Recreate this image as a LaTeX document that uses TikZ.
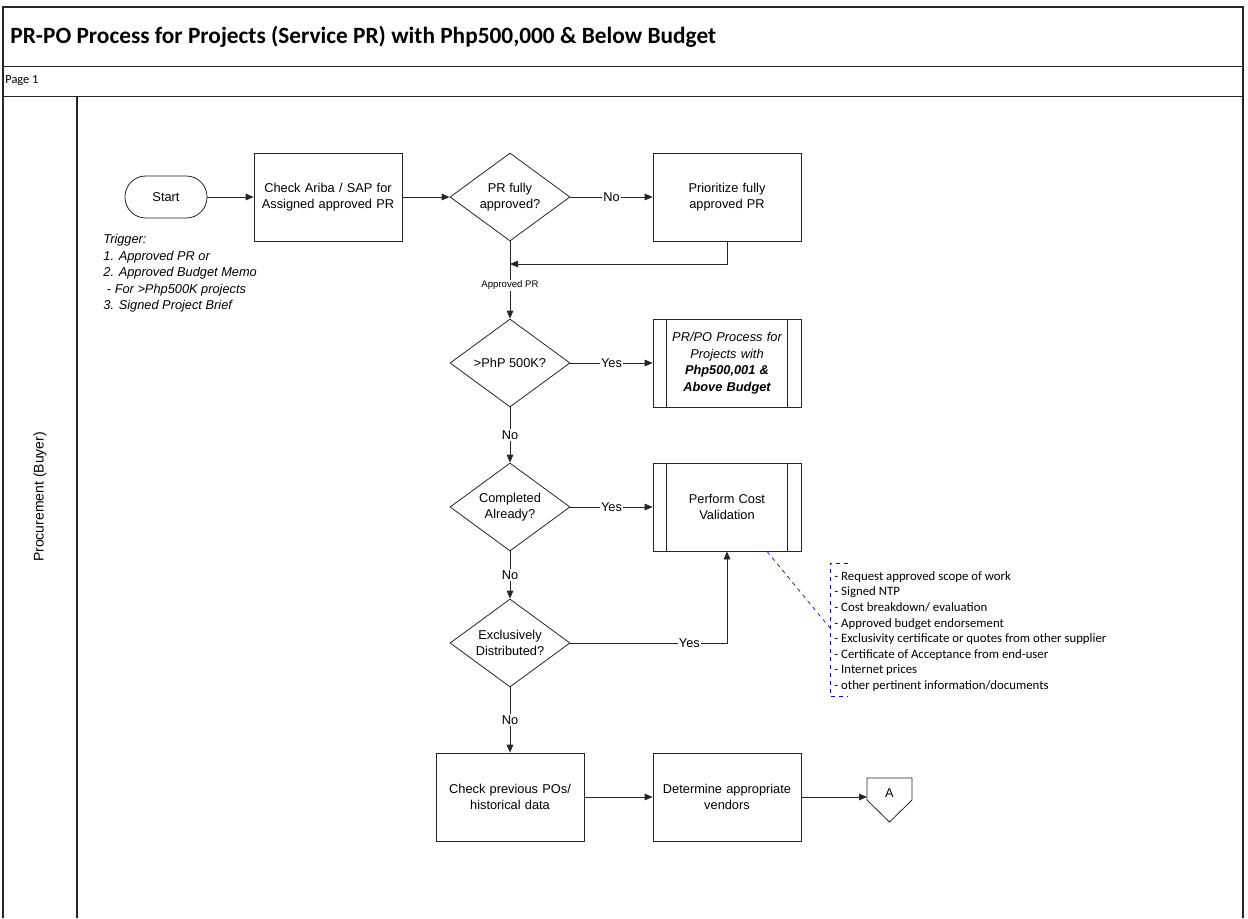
\documentclass[tikz,border=0pt]{standalone}
\usepackage{fontspec}
\setmainfont{Liberation Sans}
\newfontfamily\calibri{Carlito}
\usetikzlibrary{shapes.geometric,arrows.meta}
\begin{document}
\begin{tikzpicture}[x=0.75pt,y=-0.75pt,
  line width=0.6pt, draw=black!85,
  boxtxt/.style={font=\fontsize{9.6}{12.4}\selectfont},
  proc/.style={draw, boxtxt, minimum width=111pt, minimum height=66pt,
    text width=105pt, align=center, inner sep=2pt},
  subproc/.style={proc, text width=90pt},
  dec/.style={draw, boxtxt, diamond, aspect=1.364, minimum width=90pt,
    minimum height=66pt, inner sep=-6pt, align=center},
  term/.style={draw, boxtxt, rounded corners=15.5pt, minimum width=61.5pt,
    minimum height=31.5pt},
  arr/.style={-{Triangle[length=6pt,width=5pt]}},
  lbl/.style={fill=white, inner sep=1pt, boxtxt},
  note/.style={blue, dashed, line width=0.5pt}
]
\useasboundingbox (0,0) rectangle (1248,918);

% frame and swimlane
\draw[line width=1pt] (3,918) -- (3,7) -- (1243,7) -- (1243,918);
\draw (3,66) -- (1243,66);
\draw (3,96) -- (1243,96);
\draw[line width=0.8pt] (77,96) -- (77,918);
\node[anchor=west, inner sep=0pt, font=\calibri\bfseries\fontsize{17.5}{20}\selectfont] (title) at (10,37)
  {PR-PO Process for Projects (Service PR) with Php500,000 \& Below Budget};
\node[anchor=west, inner sep=0pt, font=\calibri\fontsize{9.3}{11}\selectfont] (page) at (5,81) {Page 1};
\node[rotate=90, font=\fontsize{10.5}{12}\selectfont] (lane) at (40,497) {Procurement (Buyer)};

% process steps
\node[term] (start) at (166,197) {Start};
\node[proc] (check) at (328,197) {Check Ariba / SAP for\\Assigned approved PR};
\node[dec] (d1) at (510,197) {PR fully\\approved?};
\node[proc] (prio) at (727,197) {Prioritize fully\\approved PR};
\node[dec] (d2) at (510,363) {>PhP 500K?};
\node[subproc] (above) at (727,363)
  {\itshape PR/PO Process for\\\itshape Projects with\\\bfseries\itshape Php500,001 \&\\\bfseries\itshape Above Budget};
\node[dec] (d3) at (510,507) {Completed\\Already?};
\node[subproc] (cost) at (727,507) {Perform Cost\\Validation};
\node[dec] (d4) at (510,643) {Exclusively\\Distributed?};
\node[proc] (hist) at (510,797) {Check previous POs/\\historical data};
\node[proc] (vend) at (727,797) {Determine appropriate\\vendors};

% predefined-process side bars
\foreach \n in {above,cost}{
  \draw ([xshift=10.5pt]\n.north west) -- ([xshift=10.5pt]\n.south west);
  \draw ([xshift=-10.5pt]\n.north east) -- ([xshift=-10.5pt]\n.south east);
}

% off-page connector
\node[boxtxt] (offA) at (889.5,793) {A};
\coordinate (offAw) at (867,797);
\draw (867,778) -- (912,778) -- (912,800) -- (889.5,822) -- (867,800) -- cycle;

% trigger note
\node[anchor=north west, inner sep=0pt, align=left, font=\itshape\fontsize{9.6}{12.4}\selectfont] (trig) at (103,234)
  {Trigger:\\1. Approved PR or\\2. Approved Budget Memo\\\ - For >Php500K projects\\3. Signed Project Brief};

% connectors
\draw[arr] (start) -- (check);
\draw[arr] (check) -- (d1);
\draw[arr] (d1) -- node[lbl] {No} (prio);
\coordinate (merge) at (510,264);
\draw[arr] (d1) -- node[lbl, pos=0.57, font=\fontsize{7.2}{8}\selectfont] {Approved PR} (d2);
\draw[arr] (prio.south) |- (merge);
\draw[arr] (d2) -- node[lbl] {Yes} (above);
\draw[arr] (d2) -- node[lbl] {No} (d3);
\draw[arr] (d3) -- node[lbl] {Yes} (cost);
\draw[arr] (d3) -- node[lbl] {No} (d4);
\draw[arr] (d4) -| node[lbl, pos=0.38] {Yes} (cost.south);
\draw[arr] (d4) -- node[lbl] {No} (hist);
\draw[arr] (hist) -- (vend);
\draw[arr] (vend) -- (offAw);

% cost validation annotation
\coordinate (notetop) at (848,563);
\coordinate (notebot) at (848,696);
\coordinate (notemid) at (830,628);
\draw[note] (notetop) -- (830,563) -- (830,696) -- (notebot);
\draw[note] ([xshift=30pt]cost.south) -- (notemid);
\node[anchor=north west, align=left, inner sep=0pt, font=\calibri\fontsize{9.6}{11.7}\selectfont] (notes) at (834,571)
  {- Request approved scope of work\\- Signed NTP\\- Cost breakdown/ evaluation\\- Approved budget endorsement\\- Exclusivity certificate or quotes from other supplier\\- Certificate of Acceptance from end-user\\- Internet prices\\- other pertinent information/documents};
\end{tikzpicture}
\end{document}
